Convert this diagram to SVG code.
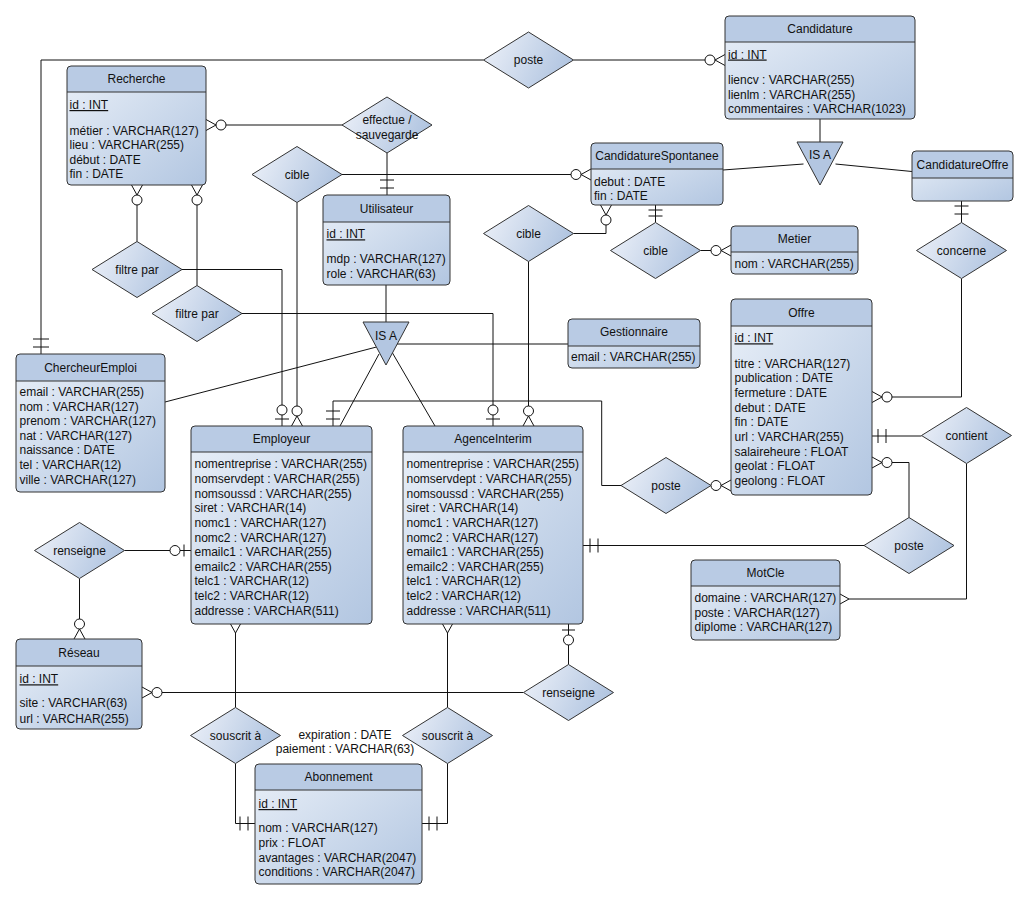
<svg xmlns="http://www.w3.org/2000/svg" width="1027" height="900" viewBox="0 0 1027 900">
<defs>
<linearGradient id="gb" x1="0" y1="0" x2="1" y2="1">
<stop offset="0" stop-color="#eaf0f8"/><stop offset="1" stop-color="#b2c6e1"/>
</linearGradient>
<linearGradient id="gd" x1="0" y1="0.35" x2="1" y2="0.65">
<stop offset="0" stop-color="#e9eef7"/><stop offset="1" stop-color="#adc2df"/>
</linearGradient>
<style>
text{font-family:"Liberation Sans",Arial,sans-serif;font-size:12px;fill:#111}
.t{text-anchor:middle}
.eb{fill:url(#gb);stroke:none}
.eh{fill:#b9cbe4;stroke:none}
.eo{fill:none;stroke:#333;stroke-width:1}
.ed{stroke:#333;stroke-width:1}
.dm{fill:url(#gd);stroke:#333;stroke-width:1}
.tri{fill:#b3c6e1;stroke:#333;stroke-width:1}
.u{text-decoration:underline}
#connectors path,#connectors line{fill:none;stroke:#111;stroke-width:1}
#connectors circle{fill:#fff;stroke:#111;stroke-width:1}
</style>
</defs>
<rect width="1027" height="900" fill="#fff"/>

<g id="connectors">
<path d="M41,354V60H483.5"/><path d="M33,347H49M33,339H49"/>
<path d="M573.5,60H705"/><path d="M725,54.5L715,60L725,65.5"/><circle cx="710" cy="60" r="5"/>
<path d="M226,125H342.5"/><path d="M206,119.5L216,125L206,130.5"/><circle cx="221" cy="125" r="5"/>
<path d="M387,153V195"/><path d="M380,188H394M380,180H394"/>
<path d="M342,174.5H571"/><path d="M591,169L581,174.5L591,180"/><circle cx="576" cy="174.5" r="5"/>
<path d="M297,202.5V406"/><path d="M291.5,426L297,416L302.5,426"/><circle cx="297" cy="411" r="5"/>
<path d="M137,205V241.5"/><path d="M131.5,185L137,195L142.5,185"/><circle cx="137" cy="200" r="5"/>
<path d="M181.7,269.5H282V405M282,415V426"/><path d="M275,419H289"/><circle cx="282" cy="410" r="5"/>
<path d="M197,205V285.5"/><path d="M191.5,185L197,195L202.5,185"/><circle cx="197" cy="200" r="5"/>
<path d="M242,313.5H493V405M493,415V426"/><path d="M486,419H500"/><circle cx="493" cy="410" r="5"/>
<path d="M528.5,261.5V406"/><path d="M523,426L528.5,416L534,426"/><circle cx="528.5" cy="411" r="5"/>
<path d="M573.5,233.5H606V225"/><path d="M600.5,205L606,215L611.5,205"/><circle cx="606" cy="220" r="5"/>
<path d="M655.5,205V222.5"/><path d="M648.5,210H662.5M648.5,216H662.5"/>
<path d="M700.5,250.5H711"/><path d="M731,245L721,250.5L731,256"/><circle cx="716" cy="250.5" r="5"/>
<path d="M820,119V142"/>
<path d="M723,170L803.5,164"/>
<path d="M835.5,164L912,171.5"/>
<path d="M961.5,201V222.5"/><path d="M954.5,206H968.5M954.5,214H968.5"/>
<path d="M961.5,278.5V397H892"/><path d="M872,391.5L882,397L872,402.5"/><circle cx="887" cy="397" r="5"/>
<path d="M386,285V322"/>
<path d="M397,344H568"/>
<path d="M165,402L376.5,347"/>
<path d="M379,354L340,426"/>
<path d="M392.5,353L435,426"/>
<path d="M333,426V401H601.7V485.5H621"/><path d="M326,419H340M326,411H340"/>
<path d="M731,480L721,485.5L731,491"/><circle cx="716" cy="485.5" r="5"/>
<path d="M872,436H921.5"/><path d="M878,429V443M886,429V443"/>
<path d="M892,462.5H909V517.5"/><path d="M872,457L882,462.5L872,468"/><circle cx="887" cy="462.5" r="5"/>
<path d="M583,545.5H864"/><path d="M590,538.5V552.5M598,538.5V552.5"/>
<path d="M966.5,463.5V599H849"/><path d="M840,594L849,599L840,604"/>
<path d="M124.5,550.5H170M180,550.5H191"/><path d="M184,544.5V556.5"/><circle cx="175" cy="550.5" r="5"/>
<path d="M79.5,578.5V619"/><path d="M74,639L79.5,629L85,639"/><circle cx="79.5" cy="624" r="5"/>
<path d="M162,692.5H523.5"/><path d="M142,687L152,692.5L142,698"/><circle cx="157" cy="692.5" r="5"/>
<path d="M568.5,624V635M568.5,645V664.5"/><path d="M562,630H575"/><circle cx="568.5" cy="640" r="5"/>
<path d="M235.5,633V707.5"/><path d="M230.5,624L235.5,633L240.5,624"/>
<path d="M235.5,763.5V823.5H255"/><path d="M248,816.5V830.5M240,816.5V830.5"/>
<path d="M447.5,633V707.5"/><path d="M442.5,624L447.5,633L452.5,624"/>
<path d="M447.5,763.5V823.5H422"/><path d="M429,816.5V830.5M437,816.5V830.5"/>
</g>

<g id="isa-candidature">
<polygon class="tri" points="797,142 843,142 820,185"/>
<text class="t" x="820" y="159">IS A</text>
</g>
<g id="isa-utilisateur">
<polygon class="tri" points="363,322 409,322 386,365"/>
<text class="t" x="386" y="340">IS A</text>
</g>

<g id="rel-poste1"><polygon class="dm" points="483.5,60 528.5,32 573.5,60 528.5,88"/><text class="t" x="528.5" y="64">poste</text></g>
<g id="rel-effectue"><polygon class="dm" points="342,125 387,97 432,125 387,153"/><text class="t" x="387" y="123.5">effectue /</text><text class="t" x="387" y="138.5">sauvegarde</text></g>
<g id="rel-cible1"><polygon class="dm" points="252,174.5 297,146.5 342,174.5 297,202.5"/><text class="t" x="297" y="178.5">cible</text></g>
<g id="rel-cible2"><polygon class="dm" points="483.5,233.5 528.5,205.5 573.5,233.5 528.5,261.5"/><text class="t" x="528.5" y="237.5">cible</text></g>
<g id="rel-cible3"><polygon class="dm" points="610.5,250.5 655.5,222.5 700.5,250.5 655.5,278.5"/><text class="t" x="655.5" y="254.5">cible</text></g>
<g id="rel-concerne"><polygon class="dm" points="916.5,250.5 961.5,222.5 1006.5,250.5 961.5,278.5"/><text class="t" x="961.5" y="254.5">concerne</text></g>
<g id="rel-contient"><polygon class="dm" points="921.5,435.5 966.5,407.5 1011.5,435.5 966.5,463.5"/><text class="t" x="966.5" y="439.5">contient</text></g>
<g id="rel-poste2"><polygon class="dm" points="621,485.5 666,457.5 711,485.5 666,513.5"/><text class="t" x="666" y="489.5">poste</text></g>
<g id="rel-poste3"><polygon class="dm" points="864,545.5 909,517.5 954,545.5 909,573.5"/><text class="t" x="909" y="549.5">poste</text></g>
<g id="rel-filtre1"><polygon class="dm" points="92,269.5 137,241.5 182,269.5 137,297.5"/><text class="t" x="137" y="273.5">filtre par</text></g>
<g id="rel-filtre2"><polygon class="dm" points="152,313.5 197,285.5 242,313.5 197,341.5"/><text class="t" x="197" y="317.5">filtre par</text></g>
<g id="rel-renseigne1"><polygon class="dm" points="34.5,550.5 79.5,522.5 124.5,550.5 79.5,578.5"/><text class="t" x="79.5" y="554.5">renseigne</text></g>
<g id="rel-renseigne2"><polygon class="dm" points="523.5,692.5 568.5,664.5 613.5,692.5 568.5,720.5"/><text class="t" x="568.5" y="696.5">renseigne</text></g>
<g id="rel-souscrit1"><polygon class="dm" points="190.5,735.5 235.5,707.5 280.5,735.5 235.5,763.5"/><text class="t" x="235.5" y="739.5">souscrit à</text></g>
<g id="rel-souscrit2"><polygon class="dm" points="402.5,735.5 447.5,707.5 492.5,735.5 447.5,763.5"/><text class="t" x="447.5" y="739.5">souscrit à</text></g>
<g id="rel-attrs"><text class="t" x="345" y="738.5">expiration : DATE</text><text class="t" x="345" y="752.5">paiement : VARCHAR(63)</text></g>

<g id="recherche">
<rect class="eb" x="67" y="66" width="139" height="119" rx="4"/>
<path class="eh" d="M67,92V70Q67,66 71,66H202Q206,66 206,70V92Z"/>
<rect class="eo" x="67" y="66" width="139" height="119" rx="4"/>
<line class="ed" x1="67" y1="92" x2="206" y2="92"/>
<text class="t" x="136.5" y="83">Recherche</text>
<text class="u" x="69.5" y="109">id : INT</text>
<text x="69.5" y="134.5">métier : VARCHAR(127)</text>
<text x="69.5" y="149">lieu : VARCHAR(255)</text>
<text x="69.5" y="163.5">début : DATE</text>
<text x="69.5" y="178">fin : DATE</text>
</g>

<g id="candidature">
<rect class="eb" x="725" y="16" width="190" height="103" rx="4"/>
<path class="eh" d="M725,42V20Q725,16 729,16H911Q915,16 915,20V42Z"/>
<rect class="eo" x="725" y="16" width="190" height="103" rx="4"/>
<line class="ed" x1="725" y1="42" x2="915" y2="42"/>
<text class="t" x="820" y="33">Candidature</text>
<text class="u" x="728" y="58.5">id : INT</text>
<text x="728" y="84">liencv : VARCHAR(255)</text>
<text x="728" y="98.5">lienlm : VARCHAR(255)</text>
<text x="728" y="113">commentaires : VARCHAR(1023)</text>
</g>

<g id="candidaturespontanee">
<rect class="eb" x="591" y="143" width="132" height="62" rx="4"/>
<path class="eh" d="M591,169V147Q591,143 595,143H719Q723,143 723,147V169Z"/>
<rect class="eo" x="591" y="143" width="132" height="62" rx="4"/>
<line class="ed" x1="591" y1="169" x2="723" y2="169"/>
<text class="t" x="657" y="160">CandidatureSpontanee</text>
<text x="594" y="186.3">debut : DATE</text>
<text x="594" y="199.7">fin : DATE</text>
</g>

<g id="candidatureoffre">
<rect class="eb" x="912" y="151" width="101" height="50" rx="4"/>
<path class="eh" d="M912,178V155Q912,151 916,151H1009Q1013,151 1013,155V178Z"/>
<rect class="eo" x="912" y="151" width="101" height="50" rx="4"/>
<line class="ed" x1="912" y1="178" x2="1013" y2="178"/>
<text class="t" x="962.5" y="168.5">CandidatureOffre</text>
</g>

<g id="utilisateur">
<rect class="eb" x="323" y="195" width="127" height="90" rx="4"/>
<path class="eh" d="M323,222V199Q323,195 327,195H446Q450,195 450,199V222Z"/>
<rect class="eo" x="323" y="195" width="127" height="90" rx="4"/>
<line class="ed" x1="323" y1="222" x2="450" y2="222"/>
<text class="t" x="386.5" y="212.5">Utilisateur</text>
<text class="u" x="326.5" y="238.3">id : INT</text>
<text x="326.5" y="263.3">mdp : VARCHAR(127)</text>
<text x="326.5" y="278">role : VARCHAR(63)</text>
</g>

<g id="gestionnaire">
<rect class="eb" x="568" y="319" width="132" height="49" rx="4"/>
<path class="eh" d="M568,346V323Q568,319 572,319H696Q700,319 700,323V346Z"/>
<rect class="eo" x="568" y="319" width="132" height="49" rx="4"/>
<line class="ed" x1="568" y1="346" x2="700" y2="346"/>
<text class="t" x="634" y="336">Gestionnaire</text>
<text x="571" y="360.7">email : VARCHAR(255)</text>
</g>

<g id="chercheuremploi">
<rect class="eb" x="16" y="354" width="149" height="138" rx="4"/>
<path class="eh" d="M16,381V358Q16,354 20,354H161Q165,354 165,358V381Z"/>
<rect class="eo" x="16" y="354" width="149" height="138" rx="4"/>
<line class="ed" x1="16" y1="381" x2="165" y2="381"/>
<text class="t" x="90.5" y="371.5">ChercheurEmploi</text>
<text x="19.5" y="395.7">email : VARCHAR(255)</text>
<text x="19.5" y="410.5">nom : VARCHAR(127)</text>
<text x="19.5" y="424.9">prenom : VARCHAR(127)</text>
<text x="19.5" y="439.5">nat : VARCHAR(127)</text>
<text x="19.5" y="454.2">naissance : DATE</text>
<text x="19.5" y="468.9">tel : VARCHAR(12)</text>
<text x="19.5" y="483.6">ville : VARCHAR(127)</text>
</g>

<g id="employeur">
<rect class="eb" x="191" y="426" width="181" height="198" rx="4"/>
<path class="eh" d="M191,452V430Q191,426 195,426H368Q372,426 372,430V452Z"/>
<rect class="eo" x="191" y="426" width="181" height="198" rx="4"/>
<line class="ed" x1="191" y1="452" x2="372" y2="452"/>
<text class="t" x="281.5" y="443">Employeur</text>
<text x="194.5" y="468.3">nomentreprise : VARCHAR(255)</text>
<text x="194.5" y="482.9">nomservdept : VARCHAR(255)</text>
<text x="194.5" y="497.6">nomsoussd : VARCHAR(255)</text>
<text x="194.5" y="512.2">siret : VARCHAR(14)</text>
<text x="194.5" y="526.9">nomc1 : VARCHAR(127)</text>
<text x="194.5" y="541.5">nomc2 : VARCHAR(127)</text>
<text x="194.5" y="556.1">emailc1 : VARCHAR(255)</text>
<text x="194.5" y="570.8">emailc2 : VARCHAR(255)</text>
<text x="194.5" y="585.4">telc1 : VARCHAR(12)</text>
<text x="194.5" y="600.1">telc2 : VARCHAR(12)</text>
<text x="194.5" y="614.7">addresse : VARCHAR(511)</text>
</g>

<g id="agenceinterim">
<rect class="eb" x="403" y="426" width="180" height="198" rx="4"/>
<path class="eh" d="M403,452V430Q403,426 407,426H579Q583,426 583,430V452Z"/>
<rect class="eo" x="403" y="426" width="180" height="198" rx="4"/>
<line class="ed" x1="403" y1="452" x2="583" y2="452"/>
<text class="t" x="493" y="443">AgenceInterim</text>
<text x="406.5" y="468.3">nomentreprise : VARCHAR(255)</text>
<text x="406.5" y="482.9">nomservdept : VARCHAR(255)</text>
<text x="406.5" y="497.6">nomsoussd : VARCHAR(255)</text>
<text x="406.5" y="512.2">siret : VARCHAR(14)</text>
<text x="406.5" y="526.9">nomc1 : VARCHAR(127)</text>
<text x="406.5" y="541.5">nomc2 : VARCHAR(127)</text>
<text x="406.5" y="556.1">emailc1 : VARCHAR(255)</text>
<text x="406.5" y="570.8">emailc2 : VARCHAR(255)</text>
<text x="406.5" y="585.4">telc1 : VARCHAR(12)</text>
<text x="406.5" y="600.1">telc2 : VARCHAR(12)</text>
<text x="406.5" y="614.7">addresse : VARCHAR(511)</text>
</g>

<g id="offre">
<rect class="eb" x="731" y="299" width="141" height="196" rx="4"/>
<path class="eh" d="M731,326V303Q731,299 735,299H868Q872,299 872,303V326Z"/>
<rect class="eo" x="731" y="299" width="141" height="196" rx="4"/>
<line class="ed" x1="731" y1="326" x2="872" y2="326"/>
<text class="t" x="801.5" y="316.5">Offre</text>
<text class="u" x="734.5" y="342.3">id : INT</text>
<text x="734.5" y="367.7">titre : VARCHAR(127)</text>
<text x="734.5" y="382.4">publication : DATE</text>
<text x="734.5" y="397">fermeture : DATE</text>
<text x="734.5" y="411.7">debut : DATE</text>
<text x="734.5" y="426.3">fin : DATE</text>
<text x="734.5" y="441">url : VARCHAR(255)</text>
<text x="734.5" y="455.7">salaireheure : FLOAT</text>
<text x="734.5" y="470.3">geolat : FLOAT</text>
<text x="734.5" y="485">geolong : FLOAT</text>
</g>

<g id="metier">
<rect class="eb" x="731" y="226" width="127" height="48" rx="4"/>
<path class="eh" d="M731,252V230Q731,226 735,226H854Q858,226 858,230V252Z"/>
<rect class="eo" x="731" y="226" width="127" height="48" rx="4"/>
<line class="ed" x1="731" y1="252" x2="858" y2="252"/>
<text class="t" x="794.5" y="243">Metier</text>
<text x="734.5" y="268">nom : VARCHAR(255)</text>
</g>

<g id="motcle">
<rect class="eb" x="691" y="560" width="149" height="80" rx="4"/>
<path class="eh" d="M691,586V564Q691,560 695,560H836Q840,560 840,564V586Z"/>
<rect class="eo" x="691" y="560" width="149" height="80" rx="4"/>
<line class="ed" x1="691" y1="586" x2="840" y2="586"/>
<text class="t" x="765.5" y="577">MotCle</text>
<text x="694.5" y="602.3">domaine : VARCHAR(127)</text>
<text x="694.5" y="617">poste : VARCHAR(127)</text>
<text x="694.5" y="631.3">diplome : VARCHAR(127)</text>
</g>

<g id="reseau">
<rect class="eb" x="16" y="639" width="126" height="90" rx="4"/>
<path class="eh" d="M16,666V643Q16,639 20,639H138Q142,639 142,643V666Z"/>
<rect class="eo" x="16" y="639" width="126" height="90" rx="4"/>
<line class="ed" x1="16" y1="666" x2="142" y2="666"/>
<text class="t" x="79" y="656.7">Réseau</text>
<text class="u" x="19.5" y="683.3">id : INT</text>
<text x="19.5" y="707.3">site : VARCHAR(63)</text>
<text x="19.5" y="722.7">url : VARCHAR(255)</text>
</g>

<g id="abonnement">
<rect class="eb" x="255" y="764" width="167" height="120" rx="4"/>
<path class="eh" d="M255,790V768Q255,764 259,764H418Q422,764 422,768V790Z"/>
<rect class="eo" x="255" y="764" width="167" height="120" rx="4"/>
<line class="ed" x1="255" y1="790" x2="422" y2="790"/>
<text class="t" x="338.5" y="781">Abonnement</text>
<text class="u" x="258.5" y="808">id : INT</text>
<text x="258.5" y="832.3">nom : VARCHAR(127)</text>
<text x="258.5" y="846.7">prix : FLOAT</text>
<text x="258.5" y="861.7">avantages : VARCHAR(2047)</text>
<text x="258.5" y="875.7">conditions : VARCHAR(2047)</text>
</g>
</svg>
